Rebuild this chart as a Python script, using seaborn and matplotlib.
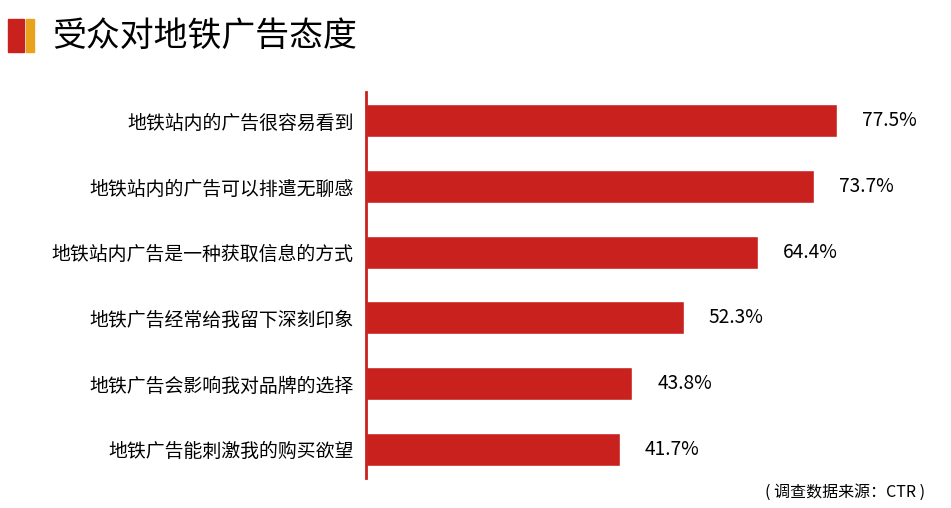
import pandas as pd
import matplotlib.pyplot as plt
import seaborn as sns
from matplotlib.patches import Rectangle

# --- data ---
items = ["地铁站内的广告很容易看到", "地铁站内的广告可以排遣无聊感", "地铁站内广告是一种获取信息的方式",
         "地铁广告经常给我留下深刻印象", "地铁广告会影响我对品牌的选择", "地铁广告能刺激我的购买欲望"]
share = [77.5, 73.7, 64.4, 52.3, 43.8, 41.7]

df = pd.DataFrame({"item": items, "share": share})

sns.set_style("white")
plt.rcParams["font.family"] = ["Noto Sans CJK SC", "DejaVu Sans"]

red = "#C9211E"
orange = "#E8A21C"

fig = plt.figure(figsize=(9.51, 5.08), dpi=100)
ax = fig.add_axes([366 / 951, 1 - 478 / 508, (951 - 366) / 951, 386 / 508])

sns.barplot(data=df, x="share", y="item", color=red, saturation=1, width=0.5, ax=ax)
ax.set_xlim(0, 585 / 6.08)
ax.set_ylim(5.44, -0.44)

for i, v in enumerate(share):
    ax.annotate(f"{v}%", (v, i), xytext=(18, 0), textcoords="offset points",
                va="center", ha="left", fontsize=13.8, color="#000000")

for s in ["top", "right", "bottom"]:
    ax.spines[s].set_visible(False)
ax.spines["left"].set_color(red)
ax.spines["left"].set_linewidth(2)
ax.set_xticks([])
ax.set_xlabel("")
ax.set_ylabel("")
ax.tick_params(axis="y", length=0, pad=9, labelsize=13.6, labelcolor="#000000")

# title with colour blocks
fig.patches.append(Rectangle((8 / 951, 1 - 52 / 508), 16 / 951, 33 / 508,
                             transform=fig.transFigure, color=red))
fig.patches.append(Rectangle((26 / 951, 1 - 52 / 508), 8 / 951, 33 / 508,
                             transform=fig.transFigure, color=orange))
fig.text(52 / 951, 1 - 36 / 508, "受众对地铁广告态度", fontsize=24.4, va="center", ha="left",
         color="#000000")

fig.text(925 / 951, 1 - 492 / 508, "( 调查数据来源：CTR )", fontsize=11.5, va="center",
         ha="right", color="#000000")

fig.savefig("out.png", dpi=100)
